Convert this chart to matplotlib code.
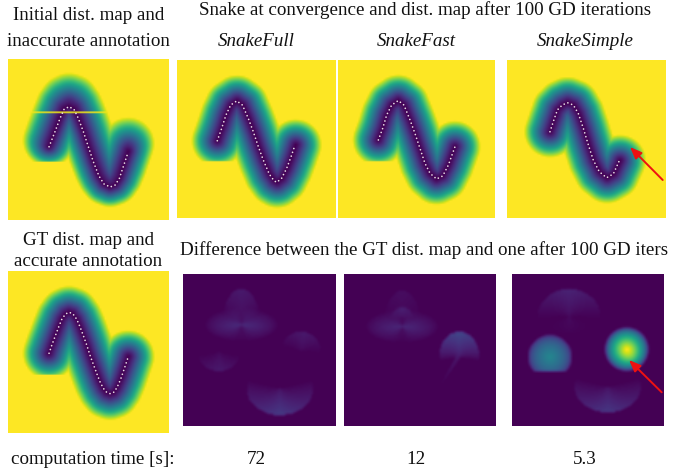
import numpy as np
import matplotlib
matplotlib.use('Agg')
import matplotlib.pyplot as plt

plt.rcParams['font.family'] = ['Liberation Serif', 'DejaVu Serif']

W, H = 675, 474
GRID = 100
RADIUS = 16.5
FS = 13.7

# anotacoes (coordenadas 0-100 dentro de cada painel)
gt_x = [25.5, 27.1, 29.2, 31.3, 33.5, 35.8, 37.9, 40.2, 42.7, 44.7, 46.8, 48.9, 50.9, 53.0, 55.1, 57.1, 59.2, 61.3, 63.4, 65.6, 67.7, 70.0, 72.3, 74.7]
gt_y = [50.8, 46.1, 40.5, 35.0, 29.6, 26.5, 25.5, 26.3, 29.8, 34.4, 39.9, 45.7, 51.9, 57.6, 63.2, 68.3, 72.4, 74.9, 75.7, 74.9, 72.0, 66.7, 60.1, 52.9]
init_x = [25.5, 29.2, 32.3, 34.8, 37.9, 41.0, 43.7, 46.8, 49.9, 53.0, 56.5, 59.6, 63.4, 66.5, 69.2, 71.6, 74.7]
init_y = [54.5, 45.1, 36.9, 31.3, 29.6, 31.3, 36.9, 45.1, 54.5, 63.8, 72.7, 77.6, 79.5, 78.3, 74.1, 66.9, 57.6]
full_x = [25.5, 28.3, 31.0, 34.0, 37.8, 41.4, 45.1, 48.3, 51.5, 54.6, 58.4, 61.4, 63.1, 66.2, 69.4, 72.2, 74.7]
full_y = [51.1, 43.2, 34.8, 28.5, 25.9, 28.5, 36.9, 45.4, 54.9, 63.3, 72.2, 76.4, 77.4, 74.9, 68.6, 61.2, 53.8]
fast_x = [25.7, 28.5, 31.0, 34.2, 38.4, 42.0, 45.9, 49.0, 52.2, 55.4, 58.6, 62.8, 66.7, 70.3, 74.5]
fast_y = [50.6, 43.2, 34.8, 28.5, 25.7, 28.5, 38.0, 46.4, 55.9, 65.4, 71.7, 75.3, 73.4, 66.5, 54.9]
simple_x = [27.2, 29.3, 31.9, 35.0, 38.2, 42.0, 45.1, 48.3, 51.5, 54.6, 58.4, 63.1, 67.3, 71.1]
simple_y = [45.4, 39.0, 31.6, 28.5, 27.0, 28.5, 33.8, 43.2, 53.8, 63.3, 70.7, 74.5, 72.1, 63.7]

# leques das diferencas: cx, cy, rx, ry, direcao, meia abertura, amplitude, some na borda?
diff_full = [(63.3, 75.2, 21.8, 17.6, 90, 105, 0.17, 0),
             (38.2, 33.4, 24.0, 11.0, 175, 95, 0.13, 1),
             (38.2, 33.4, 24.0, 11.0, 5, 95, 0.13, 1),
             (38.2, 33.4, 12.5, 23.7, 270, 55, 0.07, 0),
             (77.0, 51.0, 13.0, 13.0, 280, 85, 0.07, 0),
             (23.6, 51.0, 14.0, 13.0, 90, 80, 0.07, 0)]
diff_fast = [(38.3, 34.5, 24.0, 11.0, 175, 95, 0.12, 1),
             (38.3, 34.5, 24.0, 11.0, 5, 95, 0.12, 1),
             (38.3, 34.5, 12.5, 23.7, 270, 55, 0.035, 0),
             (38.3, 29.0, 7.0, 7.0, 270, 85, 0.07, 0),
             (75.8, 55.0, 13.2, 17.0, 270, 100, 0.22, 0),
             (63.0, 74.0, 23.0, 23.0, -58, 5, 0.07, 0)]
diff_simple = [(37.6, 27.9, 20.8, 18.0, 270, 95, 0.10, 0),
               (37.6, 27.9, 20.8, 12.0, 90, 80, 0.03, 1),
               (63.0, 74.0, 21.9, 17.0, 90, 105, 0.16, 0)]
# manchas suaves: cx, cy, raio, amplitude, expoente
blobs_simple = [(25.0, 54.5, 14.5, 0.46, 0.4),
                (75.5, 49.5, 14.5, 1.00, 0.6),
                (79.0, 55.0, 9.0, 0.08, 1.0)]

top_titles = ['SnakeFull', 'SnakeFast', 'SnakeSimple']
times = ['72', '12', '5.3']


def px_axes(fig, x0, y0, x1, y1):
    ax = fig.add_axes([x0 / W, 1 - y1 / H, (x1 - x0) / W, (y1 - y0) / H])
    ax.set_axis_off()
    return ax


def txt(fig, x, y, s, **kw):
    fig.text(x / W, 1 - y / H, s, ha='center', va='center', fontsize=FS, color='#111111', **kw)


def curve_dist(xs, ys):
    gx, gy = np.meshgrid(np.arange(GRID) + 0.5, np.arange(GRID) + 0.5)
    xs, ys = np.array(xs), np.array(ys)
    best = np.full(gx.shape, 1e9)
    for i in range(len(xs) - 1):
        dx, dy = xs[i + 1] - xs[i], ys[i + 1] - ys[i]
        t = np.clip(((gx - xs[i]) * dx + (gy - ys[i]) * dy) / (dx * dx + dy * dy), 0, 1)
        best = np.minimum(best, np.hypot(gx - xs[i] - t * dx, gy - ys[i] - t * dy))
    return best, gx, gy


def snake_map(xs, ys, flat=True):
    d, gx, gy = curve_dist(xs, ys)
    v = np.clip(d / RADIUS, 0, 1) ** 1.3
    if flat:
        v[(gy > 64) & (gx < 38.5)] = 1  # corte reto embaixo do lobo
    return v


def init_map():
    # suporte do GT, mas valores a partir da anotacao errada
    dg, gx, gy = curve_dist(gt_x, gt_y)
    d1, _, _ = curve_dist(init_x, init_y)
    v = (d1 / (d1 + np.clip(RADIUS - dg, 1e-6, None))) ** 1.3
    v[(gy > 64) & (gx < 38.5)] = 1
    v[33, 15:62] = 0.97
    return v


def smooth(img):
    k = np.array([1, 2, 1]) / 4
    img = np.apply_along_axis(lambda r: np.convolve(r, k, mode='same'), 0, img)
    return np.apply_along_axis(lambda r: np.convolve(r, k, mode='same'), 1, img)


def diff_map(wedges, blobs=()):
    gx, gy = np.meshgrid(np.arange(GRID) + 0.5, np.arange(GRID) + 0.5)
    out = np.zeros(gx.shape)
    for cx, cy, rx, ry, direc, hw, amp, fade in wedges:
        dx, dy = gx - cx, gy - cy
        r = np.hypot(dx / rx, dy / ry)
        da = np.abs((np.degrees(np.arctan2(dy, dx)) - direc + 180) % 360 - 180)
        ang = np.clip(1 - da / hw, 0, 1) ** 0.8
        rad = np.clip(1 - r, 0, 1) ** 0.7 if fade else 0.35 + 0.65 * np.minimum(r, 1)
        out += amp * ang * rad * (r < 1)
    for cx, cy, rad, amp, p in blobs:
        r = np.hypot(gx - cx, gy - cy) / rad
        blob = amp * np.clip(1 - r, 0, 1) ** p
        if cx < 40:
            blob[gy > 63.5] = 0
        out += blob
    return smooth(out)


def show(fig, box, img, line=None):
    ax = px_axes(fig, *box)
    ax.imshow(img, cmap='viridis', vmin=0, vmax=1, interpolation='bilinear', interpolation_stage='rgba',
              extent=(0, GRID, GRID, 0), aspect='auto')
    if line is not None:
        ax.plot(line[0], line[1], color='#e6dfe6', lw=1.25, ls=(0, (0.01, 2.3)), dash_capstyle='round')
    ax.set_xlim(0, GRID)
    ax.set_ylim(GRID, 0)
    return ax


def red_arrow(ax, box, start, tip):
    x0, y0, x1, y1 = box
    to_data = lambda p: ((p[0] - x0) / (x1 - x0) * GRID, (p[1] - y0) / (y1 - y0) * GRID)
    ax.annotate('', xy=to_data(tip), xytext=to_data(start), annotation_clip=False,
                arrowprops=dict(arrowstyle='-|>,head_length=0.7,head_width=0.28', color='#ee1111', lw=1.4,
                                shrinkA=0, shrinkB=0))


fig = plt.figure(figsize=(W / 100, H / 100), dpi=100)

show(fig, (8, 59, 169, 220), init_map(), (init_x, init_y))
show(fig, (177, 60, 335, 218), snake_map(full_x, full_y), (full_x, full_y))
show(fig, (338, 60, 495, 218), snake_map(fast_x, fast_y), (fast_x, fast_y))
box4 = (507, 60, 665, 218)
ax4 = show(fig, box4, snake_map(simple_x, simple_y, flat=False), (simple_x, simple_y))
red_arrow(ax4, box4, (662.7, 180), (630, 147))

show(fig, (8, 271, 169, 433), snake_map(gt_x, gt_y), (gt_x, gt_y))
show(fig, (182.5, 274, 335, 426), diff_map(diff_full))
show(fig, (344, 274, 495, 426), diff_map(diff_fast))
box8 = (512, 274, 664, 426)
ax8 = show(fig, box8, diff_map(diff_simple, blobs_simple))
red_arrow(ax8, box8, (661.7, 392.3), (629, 360))

txt(fig, 88.5, 16, 'Initial dist. map and')
txt(fig, 88.5, 41, 'inaccurate annotation')
txt(fig, 425, 10, 'Snake at convergence and dist. map after 100 GD iterations')
for cx, s in zip([256, 416, 585], top_titles):
    txt(fig, cx, 42, s, style='italic')
txt(fig, 88.5, 240, 'GT dist. map and')
txt(fig, 88.5, 262, 'accurate annotation')
txt(fig, 424, 250, 'Difference between the GT dist. map and one after 100 GD iters')
txt(fig, 93, 459, 'computation time [s]:')
for cx, s in zip([256, 416, 585], times):
    txt(fig, cx, 459, s)

fig.savefig('out.png', dpi=100)
